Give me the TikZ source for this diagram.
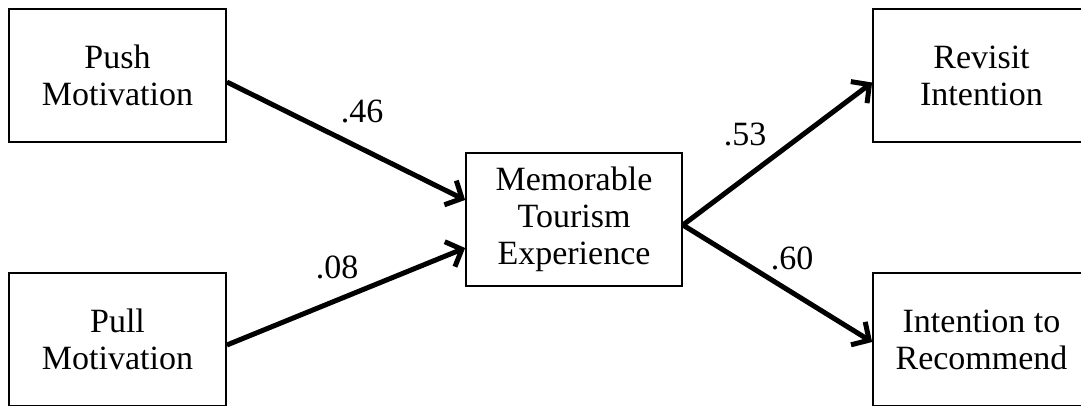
\documentclass[tikz,border=0pt]{standalone}
\usepackage{fontspec}
\setmainfont{Liberation Serif}
\usetikzlibrary{arrows.meta}
\begin{document}
\begin{tikzpicture}[x=1pt,y=-1pt,
  box/.style={draw=black,line width=1.8pt,fill=white,minimum width=217pt,minimum height=133pt,
    align=center,inner sep=0pt,font=\fontsize{34}{37}\selectfont},
  path/.style={line width=5pt,-{Straight Barb[length=13pt,width=27pt,line width=5pt]}},
  lbl/.style={font=\fontsize{34}{37}\selectfont,inner sep=0pt}]
\useasboundingbox (0,0) rectangle (1081,405);
\clip (0,0) rectangle (1081,405);
\node[box] (push) at (117.5,75.5) {Push\\Motivation};
\node[box] (pull) at (117.5,339.5) {Pull\\Motivation};
\node[box,minimum width=216pt] (mte) at (574,219.5) {Memorable\\Tourism\\Experience};
\node[box] (rev) at (981.5,75.5) {Revisit\\Intention};
\node[box] (rec) at (981.5,339.5) {Intention to\\Recommend};
\draw[path] ([yshift=-6.5pt]push.east) -- ([yshift=19.5pt]mte.west);
\draw[path] ([yshift=-5.5pt]pull.east) -- ([yshift=-28.5pt]mte.west);
\draw[path] ([yshift=-5.5pt]mte.east) -- ([yshift=-7pt]rev.west);
\draw[path] ([yshift=-5.5pt]mte.east) -- ([yshift=-2.5pt]rec.west);
\node[lbl] (l1) at (362,111) {.46};
\node[lbl] (l2) at (337,267.5) {.08};
\node[lbl] (l3) at (745,134) {.53};
\node[lbl] (l4) at (792,258) {.60};
\end{tikzpicture}
\end{document}
